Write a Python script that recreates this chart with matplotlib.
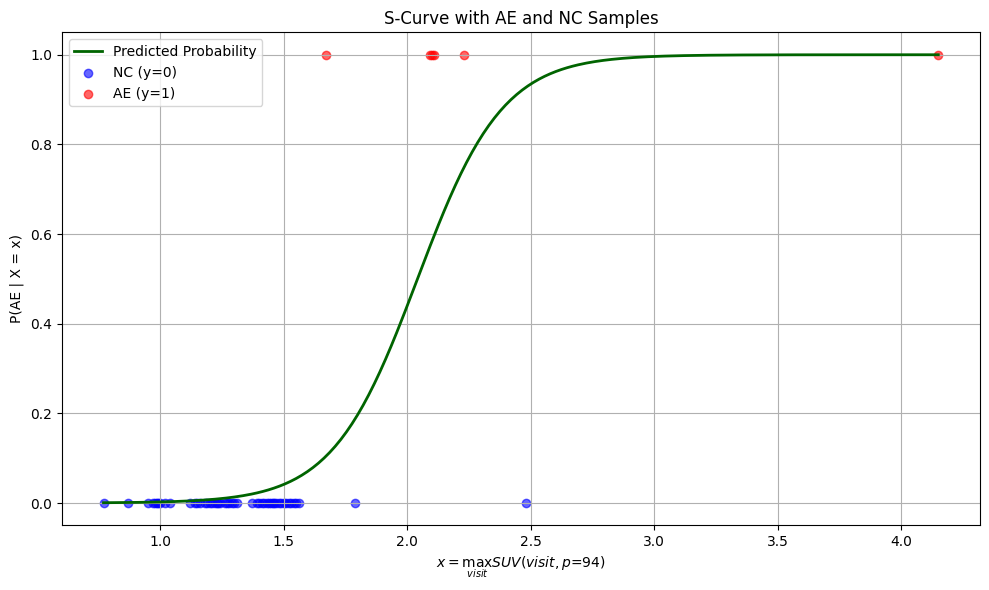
import numpy as np
import matplotlib
matplotlib.use("Agg")
import matplotlib.pyplot as plt

# samples
nc_x = [0.77, 0.87, 0.95, 0.97, 0.98, 0.985, 0.99, 1.00, 1.02, 1.04,
        1.12, 1.14, 1.15, 1.16, 1.18, 1.19, 1.20, 1.21, 1.22, 1.23, 1.235, 1.24, 1.26, 1.27,
        1.28, 1.29, 1.30, 1.31,
        1.37, 1.39, 1.40, 1.41, 1.42, 1.43, 1.44, 1.45, 1.455, 1.46, 1.47, 1.48, 1.49, 1.50,
        1.51, 1.52, 1.53, 1.54, 1.55, 1.56,
        1.79, 2.48]
ae_x = [1.67, 2.09, 2.10, 2.11, 2.23, 4.15]

# fitted logistic coefficients (estimated)
b0 = -11.84
b1 = 5.8

all_x = np.array(nc_x + ae_x)
x_grid = np.linspace(all_x.min(), all_x.max(), 300)
prob = 1 / (1 + np.exp(-(b0 + b1 * x_grid)))

fig, ax = plt.subplots(figsize=(10, 6), dpi=100)
ax.plot(x_grid, prob, color='darkgreen', lw=2, label='Predicted Probability')
ax.scatter(nc_x, np.zeros(len(nc_x)), color='blue', alpha=0.6, label='NC (y=0)')
ax.scatter(ae_x, np.ones(len(ae_x)), color='red', alpha=0.6, label='AE (y=1)')
ax.set_title('S-Curve with AE and NC Samples')
ax.set_xlabel(r'$x = \max_{visit} SUV(visit, p{=}94)$')
ax.set_ylabel('P(AE | X = x)')
ax.legend(loc='upper left')
ax.grid(True)
plt.tight_layout()
plt.savefig('out.png', bbox_inches='tight')
